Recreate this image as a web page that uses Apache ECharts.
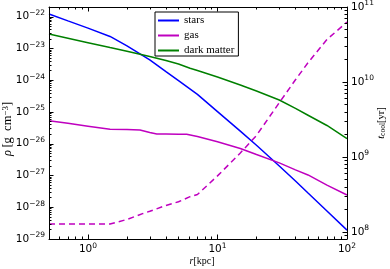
<!DOCTYPE html>
<html><head><meta charset="utf-8">
<script src="https://cdn.jsdelivr.net/npm/echarts@6/dist/echarts.min.js"></script>
<style>html,body{margin:0;padding:0;background:#fff}#c{width:390px;height:269px}</style>
</head><body><div id="c"></div>
<script>
// ---- data ----
const rStars   = [0.5, 0.7, 1.0, 1.48, 2, 3, 4, 5, 7, 10, 15, 20, 30, 40, 50, 70, 100];
const rhoStars = [1.22e-22, 7.4e-23, 4.4e-23, 2.4e-23, 1.21e-23, 4.4e-24, 1.87e-24, 9.7e-25, 3.6e-25,
                  1.03e-25, 2.5e-26, 9.0e-27, 2.0e-27, 6.7e-28, 2.8e-28, 7.6e-29, 1.9e-29];

const rGas   = [0.5, 0.7, 1.0, 1.48, 2, 2.52, 3, 3.4, 4, 5, 5.78, 7, 10, 15, 20, 30, 40, 50, 70, 100];
const rhoGas = [5.3e-26, 4.4e-26, 3.57e-26, 2.85e-26, 2.81e-26, 2.71e-26, 2.26e-26, 2.03e-26, 2.03e-26,
                2.0e-26, 1.99e-26, 1.69e-26, 1.15e-26, 7.1e-27, 4.6e-27, 2.5e-27, 1.5e-27, 1.04e-27, 5.0e-28, 2.43e-28];

const rDM   = [0.5, 0.7, 1.0, 1.48, 2, 3, 4, 5, 6.14, 7, 10, 15, 20, 30, 40, 50, 70, 100];
const rhoDM = [2.86e-23, 2.11e-23, 1.53e-23, 1.07e-23, 8.2e-24, 5.6e-24, 4.2e-24, 3.25e-24, 2.38e-24,
               2.03e-24, 1.26e-24, 7.1e-25, 4.6e-25, 2.39e-25, 1.3e-25, 7.9e-26, 3.76e-26, 1.46e-26];

const rCool = [0.5, 1.0, 1.48, 2, 2.67, 3, 4, 5, 6.14, 7, 10, 15, 20, 30, 40, 50, 70, 100];
const tCool = [1.28e8, 1.28e8, 1.28e8, 1.47e8, 1.77e8, 1.89e8, 2.26e8, 2.53e8, 2.96e8, 3.16e8,
               5.6e8, 1.13e9, 1.94e9, 5.3e9, 1.07e10, 1.81e10, 3.69e10, 6.3e10];

const seriesNames = ['stars', 'gas', 'dark matter'];

// tick values (decade exponents)
const xMajorExp = [0, 1, 2];
const rhoMajorExp = [-29, -28, -27, -26, -25, -24, -23, -22];
const tMajorExp = [8, 9, 10, 11];

const X_MIN = 0.5, X_MAX = 100, RHO_MIN = 1e-29, RHO_MAX = 2.03e-22, T_MIN = 8.07e7, T_MAX = 1e11;

// ECharts' log scale rounds tick values to 10 decimals, so densities are plotted
// in units of 1e-30 g cm^-3 (exponent offset RHO_EXP) and labelled back in g cm^-3.
const RHO_EXP = -30;
const rhoToPlot = v => v / Number('1e' + RHO_EXP);
const pow10 = e => Number('1e' + e);

function minorTicks(eLo, eHi, lo, hi) {
  const out = [];
  for (let e = eLo; e <= eHi; e++) for (let k = 2; k <= 9; k++) {
    const v = Number(k + 'e' + e);
    if (v > lo && v < hi) out.push(v);
  }
  return out;
}
const xMajor = xMajorExp.map(pow10);
const xMinor = minorTicks(-1, 1, X_MIN, X_MAX);
const rhoMajor = rhoMajorExp.map(e => pow10(e - RHO_EXP));
const rhoMinor = minorTicks(-29 - RHO_EXP, -22 - RHO_EXP, rhoToPlot(RHO_MIN), rhoToPlot(RHO_MAX));
const tMajor = tMajorExp.map(pow10);
const tMinor = minorTicks(7, 10, T_MIN, T_MAX);

function supFmt(offset) {
  return function (v) {
    const n = Math.round(Math.log10(v)) + offset;
    return '{b|10}{s|' + (n < 0 ? '\u2212' + (-n) : n) + '}';
  };
}
const tickRich = {
  b: { fontSize: 10.5, fontFamily: 'DejaVu Sans', color: '#000', lineHeight: 15 },
  s: { fontSize: 7.5, fontFamily: 'DejaVu Sans', color: '#000', verticalAlign: 'top' }
};
function nameStyle(fs, padding) {
  return {
    fontFamily: 'Liberation Serif', fontSize: fs, color: '#000', padding: padding || 0,
    rich: {
      i: { fontFamily: 'Liberation Serif', fontStyle: 'italic', fontSize: fs, color: '#000' },
      n: { fontFamily: 'Liberation Serif', fontSize: fs, color: '#000' },
      s: { fontFamily: 'Liberation Serif', fontSize: fs * 0.72, color: '#000', verticalAlign: 'top' },
      d: { fontFamily: 'Liberation Serif', fontSize: fs * 0.72, color: '#000', verticalAlign: 'bottom' }
    }
  };
}
const BLACK = '#000';

function axis(o) {
  const a = {
    type: 'log', logBase: 10, min: o.min, max: o.max, position: o.position,
    gridIndex: 0, offset: 0, splitLine: { show: false }, minorTick: { show: false },
    axisLine: { show: !!o.line, onZero: false, lineStyle: { color: BLACK, width: 1 } },
    axisTick: { show: true, inside: true, length: o.major ? 4.5 : 2.5, customValues: o.ticks,
                lineStyle: { color: BLACK, width: 1 } },
    axisLabel: { show: !!o.labels, customValues: o.ticks, formatter: supFmt(o.expOffset || 0),
                 rich: tickRich, margin: o.margin || 4, color: BLACK },
    nameMoveOverlap: false,
    silent: true, z: 10
  };
  if (o.name) {
    a.name = o.name; a.nameLocation = 'middle'; a.nameGap = o.nameGap;
    a.nameTextStyle = nameStyle(o.nameSize, o.namePadding);
  }
  return a;
}

const chart = echarts.init(document.getElementById('c'), null, { renderer: 'canvas' });
chart.setOption({
  animation: false,
  backgroundColor: '#fff',
  grid: { left: 49, right: 43, top: 7, bottom: 30, containLabel: false, outerBoundsMode: 'none' },
  legend: {
    data: seriesNames.map(n => ({ name: n, icon: 'rect' })),
    orient: 'vertical', left: 155, top: 12,
    itemWidth: 21, itemHeight: 2, itemGap: 4,
    padding: [3, 4, 0, 3],
    borderColor: BLACK, borderWidth: 1, borderRadius: 0, backgroundColor: '#fff',
    textStyle: { fontFamily: 'Liberation Serif', fontSize: 11, color: BLACK, lineHeight: 10 },
    selectedMode: false
  },
  xAxis: [
    axis({ min: X_MIN, max: X_MAX, position: 'bottom', major: true, line: true, labels: true,
           ticks: xMajor, margin: 3, name: '{i|r}{n|[kpc]}', nameGap: 17, nameSize: 10,
           namePadding: [0, 0, 0, 8] }),
    axis({ min: X_MIN, max: X_MAX, position: 'bottom', ticks: xMinor }),
    axis({ min: X_MIN, max: X_MAX, position: 'top', major: true, line: true, ticks: xMajor }),
    axis({ min: X_MIN, max: X_MAX, position: 'top', ticks: xMinor })
  ],
  yAxis: [
    axis({ min: rhoToPlot(RHO_MIN), max: rhoToPlot(RHO_MAX), position: 'left', major: true, line: true,
           labels: true, ticks: rhoMajor, expOffset: RHO_EXP, margin: 4,
           name: '{i|ρ}{n|\u2009[g\u2002cm}{s|\u22123}{n|]}', nameGap: 35, nameSize: 12.5,
           namePadding: [0, 12, 0, 0] }),
    axis({ min: rhoToPlot(RHO_MIN), max: rhoToPlot(RHO_MAX), position: 'left', ticks: rhoMinor }),
    axis({ min: T_MIN, max: T_MAX, position: 'right', major: true, line: true, labels: true,
           ticks: tMajor, margin: 4, name: '{i|t}{d|cool}{n|[yr]}', nameGap: 29, nameSize: 10.5 }),
    axis({ min: T_MIN, max: T_MAX, position: 'right', ticks: tMinor })
  ],
  series: [
    { name: 'stars', type: 'line', xAxisIndex: 0, yAxisIndex: 0, symbol: 'none',
      data: rStars.map((r, i) => [r, rhoToPlot(rhoStars[i])]),
      lineStyle: { color: '#0000ff', width: 1.5 }, itemStyle: { color: '#0000ff' } },
    { name: 'gas', type: 'line', xAxisIndex: 0, yAxisIndex: 0, symbol: 'none',
      data: rGas.map((r, i) => [r, rhoToPlot(rhoGas[i])]),
      lineStyle: { color: '#bf00bf', width: 1.5 }, itemStyle: { color: '#bf00bf' } },
    { name: 'dark matter', type: 'line', xAxisIndex: 0, yAxisIndex: 0, symbol: 'none',
      data: rDM.map((r, i) => [r, rhoToPlot(rhoDM[i])]),
      lineStyle: { color: '#008000', width: 1.5 }, itemStyle: { color: '#008000' } },
    { name: 't_cool', type: 'line', xAxisIndex: 0, yAxisIndex: 2, symbol: 'none',
      data: rCool.map((r, i) => [r, tCool[i]]),
      lineStyle: { color: '#bf00bf', width: 1.5, type: [6, 4] }, itemStyle: { color: '#bf00bf' } }
  ]
});
</script></body></html>
